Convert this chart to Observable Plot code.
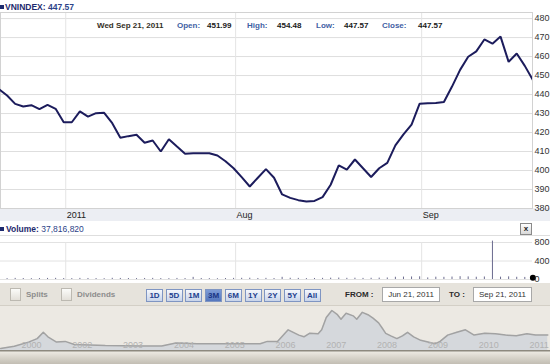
<!DOCTYPE html>
<html><head><meta charset="utf-8">
<script src="https://cdn.jsdelivr.net/npm/d3@7"></script>
<script src="https://cdn.jsdelivr.net/npm/@observablehq/plot@0.6"></script>
<style>
html,body{margin:0;padding:0;background:#fff;}
#root{position:relative;width:550px;height:364px;overflow:hidden;font-family:"Liberation Sans",Arial,sans-serif;background:#fff;}
#root > *{position:absolute;}
.b{font-weight:bold;}
.lbl{font-size:8px;font-weight:bold;color:#3f5fa3;white-space:nowrap;line-height:10px;}
.val{font-size:8px;font-weight:bold;color:#1a1a1a;white-space:nowrap;line-height:10px;}
.btn{width:17px;height:13px;box-sizing:border-box;border:1px solid #7f95c2;background:linear-gradient(#f4f7fc,#c8d4ea);font-size:8px;font-weight:bold;color:#1e3f8f;text-align:center;line-height:11px;}
.btn.sel{background:linear-gradient(#7d9bd6,#5577be);color:#1a3585;}
.chk{width:11px;height:13px;box-sizing:border-box;border:1px solid #bcb9b1;background:linear-gradient(#fbfbf9,#e3e0d9);}
.gtxt{font-size:8px;font-weight:bold;color:#8c8c8c;line-height:10px;}
.inp{height:15px;box-sizing:border-box;border:1px solid #a8a8a8;background:#fff;font-size:8px;color:#333;text-align:center;line-height:13px;}
</style></head>
<body><div id="root">
  <div style="left:0;top:0;width:550px;height:12px;background:#fff;"></div>
  <div style="left:0;top:208px;width:550px;height:13px;background:#eceef3;"></div>
  <div style="left:0;top:221px;width:550px;height:15px;background:#fff;border-bottom:1px solid #dedede;box-sizing:border-box;"></div>
  <div id="main" style="left:0;top:0;"></div>
  <div style="left:0;top:5px;width:4px;height:4px;background:#1d2a6e;"></div>
  <div style="left:5px;top:2px;font-size:8.5px;line-height:10px;color:#1d2a6e;white-space:nowrap;"><span class="b">VNINDEX:</span> <span class="b" style="color:#2c4288">447.57</span></div>
  <div id="info" style="left:0;top:21px;width:550px;height:10px;"></div>
  <div style="left:0;top:227px;width:4px;height:4px;background:#1d2a6e;"></div>
  <div style="left:6px;top:224px;font-size:8.5px;line-height:10px;color:#1d2a6e;white-space:nowrap;"><span class="b">Volume:</span> <span style="color:#2c4288">37,816,820</span></div>
  <div style="left:520px;top:223px;width:12px;height:12px;box-sizing:border-box;border:1px solid #8a8a8a;background:linear-gradient(#fff,#d8d8d8);font-size:8px;font-weight:bold;text-align:center;line-height:9px;color:#222;">x</div>
  <div id="vol" style="left:0;top:236px;"></div>
  <div style="left:0;top:283px;width:550px;height:23px;background:#e6e3dc;border-bottom:1px solid #d3cfc6;box-sizing:border-box;"></div>
  <div id="controls" style="left:0;top:283px;width:550px;height:23px;"></div>
  <div style="left:0;top:306px;width:550px;height:44px;background:#ece9e3;"></div>
  <div id="nav" style="left:0;top:305px;"></div>
  <div style="left:0;top:350px;width:550px;height:14px;background:linear-gradient(#8d897f 0px,#8d897f 1px,#ebe8e1 2px,#d6d2c9 8px,#c2bdb3 14px);"></div>
</div>
<script>
// ---- data ----
const dates = ["2011-06-20","2011-06-21","2011-06-22","2011-06-23","2011-06-24","2011-06-27","2011-06-28","2011-06-29","2011-06-30",
"2011-07-01","2011-07-04","2011-07-05","2011-07-06","2011-07-07","2011-07-08","2011-07-11","2011-07-12","2011-07-13","2011-07-14","2011-07-15","2011-07-18","2011-07-19","2011-07-20","2011-07-21","2011-07-22","2011-07-25","2011-07-26","2011-07-27","2011-07-28","2011-07-29",
"2011-08-01","2011-08-02","2011-08-03","2011-08-04","2011-08-05","2011-08-08","2011-08-09","2011-08-10","2011-08-11","2011-08-12","2011-08-15","2011-08-16","2011-08-17","2011-08-18","2011-08-19","2011-08-22","2011-08-23","2011-08-24","2011-08-25","2011-08-26","2011-08-29","2011-08-30","2011-08-31",
"2011-09-01","2011-09-05","2011-09-06","2011-09-07","2011-09-08","2011-09-09","2011-09-12","2011-09-13","2011-09-14","2011-09-15","2011-09-16","2011-09-19","2011-09-20","2011-09-21"];
const closes = [442.8, 439.5, 435.1, 433.7, 434.4, 432.3, 434.6, 432.5, 425.4, 425.4,
 431.1, 428.4, 430.2, 430.4, 424.9, 417.2, 418.1, 418.8, 414.6, 415.8,
 410.0, 416.5, 412.6, 408.8, 409.1, 409.1, 409.1, 407.9, 404.9, 401.2,
 396.5, 391.6, 396.2, 400.7, 396.2, 387.4, 385.6, 384.4, 383.7, 384.0,
 386.0, 392.5, 402.7, 400.5, 405.8, 401.2, 396.6, 401.2, 404.0, 413.2,
 419.0, 424.2, 435.2, 435.4, 435.5, 436.1, 444.2, 453.0, 459.9, 462.7,
 469.0, 466.8, 470.5, 457.2, 461.6, 455.1, 447.57];
const volumes = [22, 19, 24, 21, 18, 20, 23, 25, 21, 19,
 24, 22, 20, 18, 26, 23, 21, 19, 22, 24,
 20, 18, 23, 21, 46, 22, 19, 17, 21, 24,
 26, 28, 22, 25, 21, 47, 27, 24, 20, 22,
 25, 29, 31, 26, 28, 24, 27, 30, 33, 48,
 52, 55, 58, 34, 50, 47, 53, 61, 56, 49,
 54, 830, 51, 57, 48, 45, 37.8];
const monthLabels = ["2011", "Aug", "Sep"];
const priceTicks = [380, 390, 400, 410, 420, 430, 440, 450, 460, 470, 480];
const volumeTicks = [0, 400, 800];
const infoLabels = ["Open:", "High:", "Low:", "Close:"];
const infoValues = ["451.99", "454.48", "447.57", "447.57"];
const infoDate = "Wed Sep 21, 2011";
const navYears = [1999.59,1999.86,2000.14,2000.31,2000.43,2000.52,2000.69,2000.86,2001.04,2001.65,2002.34,2002.76,2003.04,2003.46,2004.70,2004.84,2005.04,2005.25,2005.46,2005.56,2005.67,2005.84,2005.91,2006.00,2006.11,2006.22,2006.29,2006.39,2006.53,2006.60,2006.71,2006.82,2006.92,2007.03,2007.10,2007.17,2007.27,2007.39,2007.50,2007.60,2007.72,2007.86,2008.00,2008.14,2008.24,2008.39,2008.57,2008.74,2008.91,2009.12,2009.33,2009.53,2009.74,2009.95,2010.12,2010.36];
const navValues = [114,173,290,387,563,437,290,309,223,192,184,184,262,242,242,309,309,632,485,437,535,524,632,975,1170,1053,925,1092,1022,925,1120,1053,956,827,683,535,465,387,465,563,437,340,290,242,309,485,563,632,485,535,524,485,465,524,485,485];
const navTickYears = [2000,2001,2002,2003,2004,2005,2006,2007,2008,2009,2010];
const navTickLabels = ["2000","2002","2003","2004","2005","2006","2007","2008","2009","2010","2011"];
const rangeButtons = ["1D","5D","1M","3M","6M","1Y","2Y","5Y","All"];
const selectedRange = "3M";
const fromDate = "Jun 21, 2011", toDate = "Sep 21, 2011";

// ---- derived ----
const rows = dates.map((d, i) => ({i, date: d, close: closes[i], vol: volumes[i]}));
const monthStartIdx = rows.filter((r, i) => i > 0 && r.date.slice(5,7) !== rows[i-1].date.slice(5,7)).map(r => r.i);
const monthTicks = monthStartIdx.map(i => i - 0.75);
const monthFmt = new Map(monthTicks.map((t, k) => [t, monthLabels[k]]));
const FONT = '"Liberation Sans", Arial, sans-serif';
const xScale = {domain: [0, rows.length - 1], range: [-1.5, 532.4]};

const main = Plot.plot({
  width: 550, height: 221, marginTop: 12, marginBottom: 13, marginLeft: 0, marginRight: 18,
  x: {...xScale, label: null},
  y: {domain: [380, 483.2], label: null},
  style: {background: "transparent", fontFamily: FONT, fontSize: "9px", color: "#333", overflow: "visible"},
  marks: [
    Plot.gridY(priceTicks, {stroke: "#dedede", strokeOpacity: 1}),
    Plot.gridX(monthTicks, {stroke: "#e4e4e4", strokeOpacity: 1}),
    Plot.frame({stroke: "#d2d2d2"}),
    Plot.line(rows, {x: "i", y: "close", stroke: "#1c1c5c", strokeWidth: 2, clip: true, strokeLinejoin: "miter"}),
    Plot.axisY(priceTicks, {anchor: "right", tickSize: 0, tickPadding: 2, fill: "#333"}),
    Plot.axisX(monthTicks, {anchor: "bottom", tickSize: 0, tickPadding: 3, textAnchor: "start", dx: 1, fill: "#222", tickFormat: d => monthFmt.get(d)})
  ]
});
document.getElementById("main").append(main);

const vol = Plot.plot({
  width: 550, height: 47, marginTop: 6, marginBottom: 4, marginLeft: 0, marginRight: 18,
  x: {...xScale, axis: null},
  y: {domain: [0, 800], label: null},
  style: {background: "transparent", fontFamily: FONT, fontSize: "9px", color: "#333", overflow: "visible"},
  marks: [
    Plot.gridY(volumeTicks, {stroke: "#e2e2e2", strokeOpacity: 1}),
    Plot.gridX(monthTicks, {stroke: "#e4e4e4", strokeOpacity: 1}),
    Plot.ruleX(rows, {x: "i", y1: 0, y2: "vol", stroke: "#6a6a8e", strokeWidth: 1}),
    Plot.dot(rows.slice(-1), {x: "i", y: "vol", r: 3, fill: "#000"}),
    Plot.axisY(volumeTicks, {anchor: "right", tickSize: 0, tickPadding: 2, fill: "#333"})
  ]
});
document.getElementById("vol").append(vol);

const navRows = navYears.map((t, k) => ({t, v: navValues[k]}));
const navFmt = new Map(navTickYears.map((y, k) => [y, navTickLabels[k]]));
const nav = Plot.plot({
  width: 550, height: 47, margin: 0,
  x: {domain: [1999.587, 1999.587 + 550 / 50.8], axis: null},
  y: {domain: [0, 1310], axis: null},
  style: {background: "transparent", fontFamily: FONT, fontSize: "9px"},
  marks: [
    Plot.areaY(navRows, {x: "t", y: "v", fill: "#d5d8dc"}),
    Plot.line(navRows, {x: "t", y: "v", stroke: "#a2a2a2", strokeWidth: 1.5}),
    Plot.text(navTickYears, {x: d => d, frameAnchor: "bottom", dy: -5, text: d => navFmt.get(d), textAnchor: "start", fill: "#b2b2b2"})
  ]
});
document.getElementById("nav").append(nav);

// info row
const info = document.getElementById("info");
const place = (cls, text, left) => { const s = document.createElement("div"); s.className = cls; s.textContent = text; s.style.position = "absolute"; s.style.left = left + "px"; s.style.top = "0px"; info.append(s); return s; };
place("val", infoDate, 97).style.color = "#34301f";
const labLeft = [177, 247, 316, 382], valLeft = [207, 277, 344, 418];
infoLabels.forEach((l, k) => { place("lbl", l, labLeft[k]); place("val", infoValues[k], valLeft[k]); });

// controls
const ctl = document.getElementById("controls");
const add = (cls, text, left, top, width) => { const s = document.createElement("div"); s.className = cls; s.textContent = text; s.style.position = "absolute"; s.style.left = left + "px"; s.style.top = top + "px"; if (width) s.style.width = width + "px"; ctl.append(s); return s; };
add("chk", "", 10, 5);
add("gtxt", "Splits", 26, 7);
add("chk", "", 61, 5);
add("gtxt", "Dividends", 77, 7);
rangeButtons.forEach((b, k) => add("btn" + (b === selectedRange ? " sel" : ""), b, 146 + k * 19.7, 6));
const f = add("gtxt", "FROM :", 345, 7); f.style.color = "#2a2a2a";
add("inp", fromDate, 382, 4, 58);
const t = add("gtxt", "TO :", 449, 7); t.style.color = "#2a2a2a";
add("inp", toDate, 473, 4, 59);
</script></body></html>
